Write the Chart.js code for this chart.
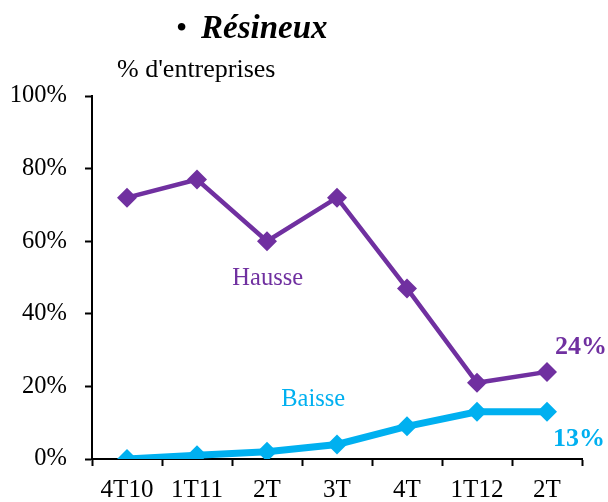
<!DOCTYPE html>
<html>
<head>
<meta charset="utf-8">
<script src="https://cdn.jsdelivr.net/npm/chart.js@4"></script>
<style>
  html, body { margin: 0; padding: 0; background: #fff; }
  #wrap { width: 608px; height: 502px; }
</style>
</head>
<body>
<div id="wrap"><canvas id="chart" width="608" height="502"></canvas></div>
<script>
const categories = ['4T10', '1T11', '2T', '3T', '4T', '1T12', '2T'];
const hausse = [72, 77, 60, 72, 47, 21, 24];
const baisse = [0, 1, 2, 4, 9, 13, 13];
const yTicks = [0, 20, 40, 60, 80, 100];

const purple = '#7030A0';
const cyan = '#00B0F0';
const serif = '"Liberation Serif", "Times New Roman", serif';

// title, unit and series labels
const textPlugin = {
    id: 'texts',
    afterDraw(chart) {
        const ctx = chart.ctx;
        const x = chart.scales.x;
        const y = chart.scales.y;
        ctx.save();
        ctx.textBaseline = 'alphabetic';
        ctx.fillStyle = '#000';
        ctx.font = '32px ' + serif;
        ctx.textAlign = 'left';
        ctx.fillText('\u2022', 176, 38);
        ctx.font = 'italic bold 33px ' + serif;
        ctx.fillText('Résineux', 201, 38);
        ctx.font = '26px ' + serif;
        ctx.fillText("% d'entreprises", 117, 77);

        ctx.textAlign = 'center';
        ctx.textBaseline = 'middle';
        ctx.font = '24.5px ' + serif;
        ctx.fillStyle = purple;
        ctx.fillText('Hausse', x.getPixelForValue(2.01), y.getPixelForValue(49.6));
        ctx.fillStyle = cyan;
        ctx.fillText('Baisse', x.getPixelForValue(2.66), y.getPixelForValue(16.3));

        const last = categories.length - 1;
        ctx.font = 'bold 26px ' + serif;
        ctx.fillStyle = purple;
        ctx.fillText(hausse[last] + '%', x.getPixelForValue(last) + 34, y.getPixelForValue(hausse[last] + 6.9));
        ctx.fillStyle = cyan;
        ctx.fillText(baisse[last] + '%', x.getPixelForValue(last) + 32, y.getPixelForValue(baisse[last] - 7.5));
        ctx.restore();
    }
};

new Chart(document.getElementById('chart'), {
    type: 'line',
    data: {
        labels: categories,
        datasets: [{
            label: 'Hausse',
            data: hausse,
            borderColor: purple,
            backgroundColor: purple,
            borderWidth: 4.5,
            pointStyle: 'rectRot',
            pointRadius: 10,
            pointBorderWidth: 0,
            tension: 0
        }, {
            label: 'Baisse',
            data: baisse,
            borderColor: cyan,
            backgroundColor: cyan,
            borderWidth: 7,
            pointStyle: 'rectRot',
            pointRadius: 10,
            pointBorderWidth: 0,
            tension: 0
        }]
    },
    options: {
        responsive: false,
        animation: false,
        layout: { padding: { top: 96, right: 26, bottom: 0, left: 0 } },
        plugins: {
            legend: { display: false },
            tooltip: { enabled: false }
        },
        scales: {
            x: {
                offset: true,
                grid: { offset: true, drawOnChartArea: false, drawTicks: true, tickLength: 7, color: '#000', tickWidth: 2 },
                border: { display: true, color: '#000', width: 2 },
                ticks: { color: '#000', font: { family: serif, size: 25 }, padding: 9, maxRotation: 0, autoSkip: false },
                afterFit(scale) { scale.height = 43; }
            },
            y: {
                min: 0,
                max: 100,
                afterBuildTicks(scale) { scale.ticks = yTicks.map(v => ({ value: v })); },
                grid: { drawOnChartArea: false, drawTicks: true, tickLength: 7, color: '#000', tickWidth: 2 },
                border: { display: true, color: '#000', width: 2 },
                ticks: { color: '#000', font: { family: serif, size: 24.5 }, padding: 18, callback: v => v + '%' },
                afterFit(scale) { scale.width = 92; }
            }
        }
    },
    plugins: [textPlugin]
});
</script>
</body>
</html>
